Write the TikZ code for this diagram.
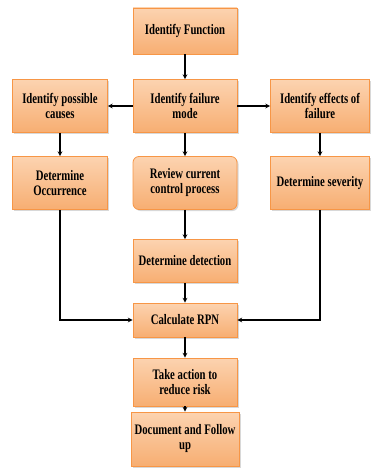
\documentclass[tikz,border=0pt]{standalone}
\usepackage{fontspec}
\setmainfont{Liberation Serif}[FakeStretch=0.74]
\usetikzlibrary{arrows,shapes,positioning,shadows}
\definecolor{boxtop}{HTML}{FCD3B0}
\definecolor{boxbot}{HTML}{F7AE72}
\definecolor{boxline}{HTML}{F79646}
\tikzset{
  stepbox/.style={rectangle,draw=boxline,thick,top color=boxtop,bottom color=boxbot,
    drop shadow={shadow xshift=1.5pt,shadow yshift=-1.5pt,fill=black!30},
    align=center,inner sep=2pt,font=\bfseries\fontsize{14.5}{15}\selectfont},
  flow/.style={->,>=stealth,line width=1.1pt,black}
}
\begin{document}
\begin{tikzpicture}[x=1pt,y=-1pt]
\useasboundingbox (0,0) rectangle (370,468);
% Top row
\node[stepbox,minimum width=104pt,minimum height=46pt] (func) at (185,31) {Identify Function};
\node[stepbox,minimum width=104pt,minimum height=53pt] (mode) at (185,106) {Identify failure\\mode};
\node[stepbox,minimum width=95pt,minimum height=53pt] (causes) at (60,106) {Identify possible\\causes};
\node[stepbox,minimum width=99pt,minimum height=53pt] (effects) at (320,106) {Identify effects of\\failure};

% Second row
\node[stepbox,minimum width=95pt,minimum height=53pt] (occur) at (60,183) {Determine\\Occurrence};
\node[stepbox,rounded corners=6pt,minimum width=104pt,minimum height=53pt] (review) at (185,183) {Review current\\control process};
\node[stepbox,minimum width=99pt,minimum height=53pt] (sever) at (320,183) {Determine severity};

% Centre column
\node[stepbox,minimum width=104pt,minimum height=43pt] (detect) at (185,261) {Determine detection};
\node[stepbox,minimum width=104pt,minimum height=34pt] (rpn) at (185,320) {Calculate RPN};
\node[stepbox,minimum width=104pt,minimum height=48pt] (action) at (185,382) {Take action to\\reduce risk};
\node[stepbox,minimum width=108pt,minimum height=54pt] (doc) at (185,439) {Document and Follow\\up};

\draw[flow] (func) -- (mode);
\draw[flow] (mode) -- (causes);
\draw[flow] (mode) -- (effects);
\draw[flow] (causes) -- (occur);
\draw[flow] (mode) -- (review);
\draw[flow] (effects) -- (sever);
\draw[flow] (review) -- (detect);
\draw[flow] (detect) -- (rpn);
\draw[flow] (occur) |- (rpn);
\draw[flow] (sever) |- (rpn);
\draw[flow] (rpn) -- (action);
\draw[flow] (action) -- (doc);
\end{tikzpicture}
\end{document}
